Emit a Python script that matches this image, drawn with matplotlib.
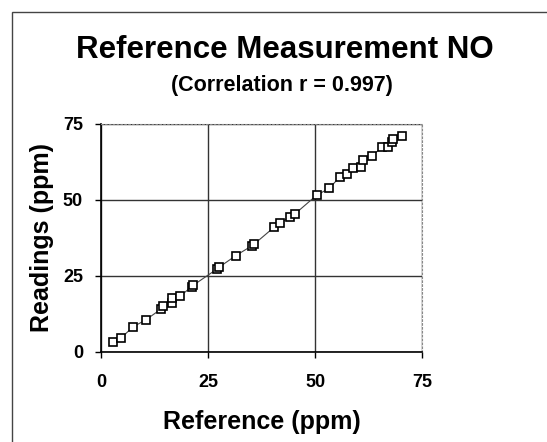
import matplotlib
matplotlib.use("Agg")
import matplotlib.pyplot as plt
from matplotlib.patches import Rectangle

plt.rcParams['font.family'] = ['Liberation Sans', 'DejaVu Sans']

reference = [2.9, 4.6, 7.5, 10.4, 14.0, 14.5, 16.5, 16.5, 18.5, 21.2, 21.6,
             27.0, 27.6, 31.5, 35.2, 35.8, 40.4, 41.8, 44.2, 45.3, 50.4,
             53.3, 55.8, 57.4, 58.9, 60.7, 61.1, 63.4, 65.6, 67.1, 67.9, 68.2, 70.3]
readings = [3.2, 4.5, 8.3, 10.5, 14.1, 15.1, 16.1, 17.8, 18.4, 21.5, 22.0,
            27.2, 27.9, 31.7, 34.9, 35.5, 41.0, 42.3, 44.5, 45.4, 51.6,
            53.8, 57.6, 58.5, 60.6, 60.9, 63.2, 64.6, 67.3, 67.3, 69.2, 70.0, 71.2]
ticks = [0, 25, 50, 75]
title = "Reference Measurement NO"
subtitle = "(Correlation r = 0.997)"
xlabel = "Reference (ppm)"
ylabel = "Readings (ppm)"

W, H = 547, 442
fig = plt.figure(figsize=(W / 100, H / 100), dpi=100)
fig.patch.set_facecolor('white')

# outer frame (top and left edges visible)
fig.patches.append(Rectangle((12 / W, -0.1), 1.2, (H - 12) / H + 0.1,
                             transform=fig.transFigure, fill=False,
                             edgecolor='#444444', linewidth=1.0))

ax = fig.add_axes([101 / W, (H - 352) / H, 321 / W, 228 / H])
ax.plot(reference, readings, color='#444444', linewidth=0.8, zorder=2,
        marker='s', markersize=6, markerfacecolor='white',
        markeredgecolor='black', markeredgewidth=1.2)

ax.set_xlim(0, 75)
ax.set_ylim(0, 75)
ax.set_xticks(ticks)
ax.set_yticks(ticks)
ax.set_xticklabels([str(t) for t in ticks], fontsize=13, fontweight='bold')
ax.set_yticklabels([str(t) for t in ticks], fontsize=13, fontweight='bold')
ax.tick_params(axis='x', direction='out', length=4, width=1, pad=12)
ax.tick_params(axis='y', direction='out', length=4, width=1, pad=9)
ax.grid(True, color='#333333', linewidth=1.0)
ax.set_axisbelow(True)

for s in ['left', 'bottom']:
    ax.spines[s].set_color('black')
    ax.spines[s].set_linewidth(1.2)
for s in ['top', 'right']:
    ax.spines[s].set_color('#888888')
    ax.spines[s].set_linewidth(0.8)
    ax.spines[s].set_linestyle((0, (1.5, 2)))

ax.set_xlabel(xlabel, fontsize=18, fontweight='bold')
ax.xaxis.set_label_coords((262 - 101) / 321, (352 - 429) / 228)
ax.xaxis.label.set_va('baseline')
ax.set_ylabel(ylabel, fontsize=18, fontweight='bold')
ax.yaxis.set_label_coords((42 - 101) / 321, 0.5)
ax.yaxis.label.set_va('center')

fig.text(285 / W, 1 - 58 / H, title, ha='center', va='baseline',
         fontsize=22.5, fontweight='bold')
fig.text(282 / W, 1 - 91 / H, subtitle, ha='center', va='baseline',
         fontsize=15.5, fontweight='bold')

fig.savefig('out.png', dpi=100, facecolor='white')
